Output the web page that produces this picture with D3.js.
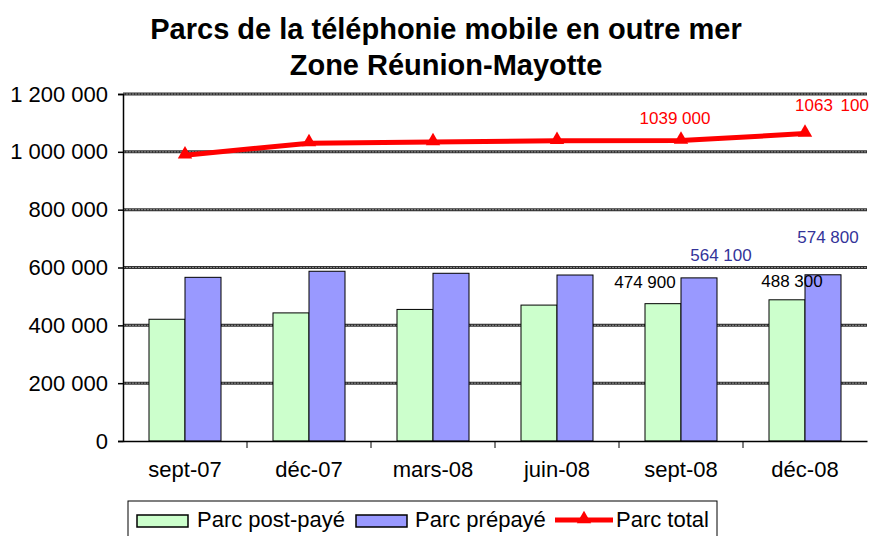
<!DOCTYPE html>
<html>
<head>
<meta charset="utf-8">
<script src="https://cdn.jsdelivr.net/npm/d3@7"></script>
<style>
  body { margin: 0; background: #fff; }
  text { font-family: "Liberation Sans", Arial, sans-serif; }
</style>
</head>
<body>
<div id="chart"></div>
<script>
// Data
const categories = ['sept-07', 'déc-07', 'mars-08', 'juin-08', 'sept-08', 'déc-08'];
const postPaye = [421000, 443000, 455000, 470000, 474900, 488300];
const prePaye = [566000, 587000, 580000, 574000, 564100, 574800];
const total = [988000, 1030000, 1034000, 1038000, 1039000, 1063100];
const yTicks = [0, 200000, 400000, 600000, 800000, 1000000, 1200000];
const titleLines = ['Parcs de la téléphonie mobile en outre mer', 'Zone Réunion-Mayotte'];
const legendLabels = ['Parc post-payé', 'Parc prépayé', 'Parc total'];

const width = 872, height = 536;
const margin = { top: 94, right: 5, bottom: 95, left: 123 };

const svg = d3.select('#chart')
    .append('svg')
    .attr('width', width)
    .attr('height', height);

const x = d3.scaleBand()
    .domain(categories)
    .range([margin.left, width - margin.right])
    .paddingInner(0)
    .paddingOuter(0);

const y = d3.scaleLinear()
    .domain([0, 1200000])
    .range([height - margin.bottom, margin.top]);

const fmt = v => d3.format(',')(v).replace(/,/g, ' ');

// Title
svg.append('g')
    .selectAll('text')
    .data(titleLines)
    .join('text')
    .attr('x', 446)
    .attr('y', (d, i) => 39 + i * 36)
    .attr('text-anchor', 'middle')
    .style('font-size', '29px')
    .style('font-weight', 'bold')
    .text(d => d);

// Gridlines
const grid = svg.append('g');
grid.selectAll('line.g1')
    .data(yTicks.filter(d => d > 0))
    .join('line')
    .attr('class', 'g1')
    .attr('x1', margin.left)
    .attr('x2', width - margin.right)
    .attr('y1', d => y(d))
    .attr('y2', d => y(d))
    .style('stroke', '#333')
    .style('stroke-width', 3);
grid.selectAll('line.g2')
    .data(yTicks.filter(d => d > 0))
    .join('line')
    .attr('class', 'g2')
    .attr('x1', margin.left)
    .attr('x2', width - margin.right)
    .attr('y1', d => y(d))
    .attr('y2', d => y(d))
    .style('stroke', '#8a8a8a')
    .style('stroke-width', 1)
    .style('stroke-dasharray', '2,1');

// Bars
const barW = 36;
const series = [
    { values: postPaye, color: '#CCFFCC', offset: -barW },
    { values: prePaye, color: '#9999FF', offset: 0 }
];
series.forEach(s => {
    svg.append('g')
        .selectAll('rect')
        .data(categories)
        .join('rect')
        .attr('x', (d, i) => x(d) + x.bandwidth() / 2 + s.offset)
        .attr('y', (d, i) => y(s.values[i]))
        .attr('width', barW)
        .attr('height', (d, i) => y(0) - y(s.values[i]))
        .style('fill', s.color)
        .style('stroke', '#000')
        .style('stroke-width', 1);
});

// Axes
const yAxis = d3.axisLeft(y)
    .tickValues(yTicks)
    .tickFormat(fmt)
    .tickSize(5)
    .tickPadding(10);
const gy = svg.append('g')
    .attr('transform', `translate(${margin.left},0)`)
    .call(yAxis);
gy.select('.domain').style('stroke', '#000').style('stroke-width', 1.5);
gy.selectAll('.tick line').style('stroke', '#000').style('stroke-width', 1.5);
gy.selectAll('.tick text')
    .style('font-size', '22px')
    .style('font-family', '"Liberation Sans", Arial, sans-serif')
    .style('fill', '#000');

const xAxis = d3.axisBottom(x)
    .tickSize(0)
    .tickPadding(20);
const gx = svg.append('g')
    .attr('transform', `translate(0,${y(0)})`)
    .call(xAxis);
gx.select('.domain').style('stroke', '#000').style('stroke-width', 1.5);
gx.selectAll('.tick text')
    .style('font-size', '22px')
    .style('font-family', '"Liberation Sans", Arial, sans-serif')
    .style('fill', '#000');

// Category separator ticks
svg.append('g')
    .selectAll('line')
    .data(categories.slice(1))
    .join('line')
    .attr('x1', d => x(d))
    .attr('x2', d => x(d))
    .attr('y1', y(0))
    .attr('y2', y(0) + 7)
    .style('stroke', '#000')
    .style('stroke-width', 1);

// Total line
const line = d3.line()
    .x((d, i) => x(categories[i]) + x.bandwidth() / 2)
    .y(d => y(d));

svg.append('path')
    .datum(total)
    .attr('d', line)
    .style('fill', 'none')
    .style('stroke', '#FF0000')
    .style('stroke-width', 5);

const tri = d3.symbol().type(d3.symbolTriangle).size(90);
svg.append('g')
    .selectAll('path')
    .data(total)
    .join('path')
    .attr('d', tri)
    .attr('transform', (d, i) => `translate(${x(categories[i]) + x.bandwidth() / 2},${y(d) - 1})`)
    .style('fill', '#FF0000');

// Data labels (only last two periods are labelled)
const labelData = [
    { i: 4, v: postPaye[4], text: '474 900', color: '#000', base: -barW / 2, dx: -18, dy: -16 },
    { i: 4, v: prePaye[4], text: '564 100', color: '#333399', base: barW / 2, dx: 22, dy: -17 },
    { i: 5, v: postPaye[5], text: '488 300', color: '#000', base: -barW / 2, dx: 5, dy: -13 },
    { i: 5, v: prePaye[5], text: '574 800', color: '#333399', base: barW / 2, dx: 5, dy: -32 },
    { i: 4, v: total[4], text: '1039 000', color: '#FF0000', base: 0, dx: -6, dy: -17 },
    { i: 5, v: total[5], text: '1063 100', color: '#FF0000', base: 0, dx: 27, dy: -23 }
];
svg.append('g')
    .selectAll('text')
    .data(labelData)
    .join('text')
    .attr('x', d => x(categories[d.i]) + x.bandwidth() / 2 + d.base + d.dx)
    .attr('y', d => y(d.v) + d.dy)
    .attr('text-anchor', 'middle')
    .style('font-size', '17px')
    .style('fill', d => d.color)
    .style('word-spacing', d => d.text === '1063 100' ? '3px' : '0px')
    .text(d => d.text);

// Legend
const legend = svg.append('g');
legend.append('rect')
    .attr('x', 128)
    .attr('y', 501)
    .attr('width', 589)
    .attr('height', 40)
    .style('fill', '#fff')
    .style('stroke', '#000')
    .style('stroke-width', 1);

const legendItems = [
    { label: legendLabels[0], type: 'bar', color: '#CCFFCC', x: 137, tx: 197 },
    { label: legendLabels[1], type: 'bar', color: '#9999FF', x: 356, tx: 415 },
    { label: legendLabels[2], type: 'line', color: '#FF0000', x: 555, tx: 616 }
];
legendItems.forEach(item => {
    const g = legend.append('g');
    if (item.type === 'bar') {
        g.append('rect')
            .attr('x', item.x)
            .attr('y', 515)
            .attr('width', 51)
            .attr('height', 12)
            .style('fill', item.color)
            .style('stroke', '#000')
            .style('stroke-width', 1.5);
    } else {
        g.append('line')
            .attr('x1', item.x)
            .attr('x2', item.x + 58)
            .attr('y1', 520)
            .attr('y2', 520)
            .style('stroke', item.color)
            .style('stroke-width', 5);
        g.append('path')
            .attr('d', tri)
            .attr('transform', `translate(${item.x + 29},519)`)
            .style('fill', item.color);
    }
    g.append('text')
        .attr('x', item.tx)
        .attr('y', 527)
        .style('font-size', '22px')
        .text(item.label);
});
</script>
</body>
</html>
